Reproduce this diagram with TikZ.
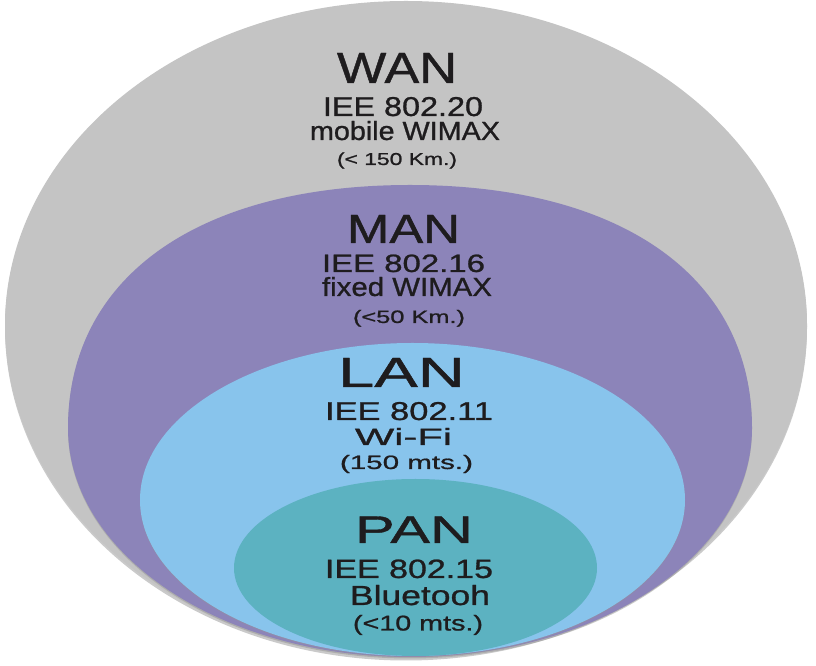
\documentclass[tikz,border=0pt]{standalone}
\usepackage{fontspec}
\setmainfont{Liberation Sans}[BoldFont={Liberation Sans},BoldFeatures={FakeBold=0.9}]
\usepackage{graphicx}
\definecolor{wanc}{RGB}{196,196,196}
\definecolor{manc}{RGB}{140,132,185}
\definecolor{lanc}{RGB}{136,196,236}
\definecolor{panc}{RGB}{92,178,193}
\definecolor{txtc}{RGB}{30,28,30}
\definecolor{shadc}{RGB}{150,150,150}
\begin{document}
\begin{tikzpicture}[x=1pt,y=1pt,
  egg/.style n args={7}{insert path={
    ({#1+#3},{#2}) .. controls ({#1+#3},{#2+#6*#4}) and ({#1+#6*#3},{#2+#4}) .. ({#1},{#2+#4})
    .. controls ({#1-#6*#3},{#2+#4}) and ({#1-#3},{#2+#6*#4}) .. ({#1-#3},{#2})
    .. controls ({#1-#3},{#2-#7*#5}) and ({#1-#7*#3},{#2-#5}) .. ({#1},{#2-#5})
    .. controls ({#1+#7*#3},{#2-#5}) and ({#1+#3},{#2-#7*#5}) .. cycle}},
  lbl/.style={anchor=base, inner sep=0pt, text=txtc, font=\bfseries}]
\fill[white] (0,0) rectangle (816,666);
\useasboundingbox (0,0) rectangle (816,666);
% WAN
\fill[shadc, opacity=0.5, yshift=-2.5pt, egg={406}{341}{401}{324}{333}{0.552}{0.552}];
\fill[wanc, egg={406}{341}{401}{324}{333}{0.552}{0.552}];
% MAN
\fill[shadc, opacity=0.5, yshift=-1.5pt, egg={410}{238}{342}{243}{229}{0.62}{0.552}];
\fill[manc, egg={410}{238}{342}{243}{229}{0.62}{0.552}];
% LAN
\fill[shadc, opacity=0.4, yshift=-1.2pt, egg={412.5}{166}{272.5}{157}{156}{0.552}{0.552}];
\fill[lanc, egg={412.5}{166}{272.5}{157}{156}{0.552}{0.552}];
% PAN
\fill[panc, egg={415.5}{98}{181.5}{89}{88}{0.552}{0.552}];
% texts
\node[lbl] (wan) at (397,583) {\resizebox{120pt}{30pt}{WAN}};
\node[lbl] (wan2) at (403,550) {\resizebox{160pt}{19pt}{IEE 802.20}};
\node[lbl] (wan3) at (405,526) {\resizebox{190pt}{19pt}{mobile WIMAX}};
\node[lbl] (wan4) at (397,501) {\resizebox{120pt}{12.5pt}{(< 150 Km.)}};
\node[lbl] (man) at (403.5,423) {\resizebox{113pt}{28pt}{MAN}};
\node[lbl] (man2) at (403.5,394) {\resizebox{163pt}{17.5pt}{IEE 802.16}};
\node[lbl] (man3) at (407,370) {\resizebox{170pt}{19pt}{fixed WIMAX}};
\node[lbl] (man4) at (409,343) {\resizebox{112pt}{13pt}{(<50 Km.)}};
\node[lbl] (lan) at (401.5,279) {\resizebox{127pt}{29pt}{LAN}};
\node[lbl] (lan2) at (409,246) {\resizebox{168pt}{18pt}{IEE 802.11}};
\node[lbl] (lan3) at (403.5,221) {\resizebox{97pt}{17pt}{Wi-Fi}};
\node[lbl] (lan4) at (406.5,197) {\resizebox{133pt}{14pt}{(150 mts.)}};
\node[lbl] (pan) at (414,123) {\resizebox{118pt}{26.5pt}{PAN}};
\node[lbl] (pan2) at (409,88) {\resizebox{168pt}{18.5pt}{IEE 802.15}};
\node[lbl] (pan3) at (420,61) {\resizebox{140pt}{20pt}{Bluetooh}};
\node[lbl] (pan4) at (418,35.5) {\resizebox{130pt}{15.5pt}{(<10 mts.)}};
\end{tikzpicture}
\end{document}
